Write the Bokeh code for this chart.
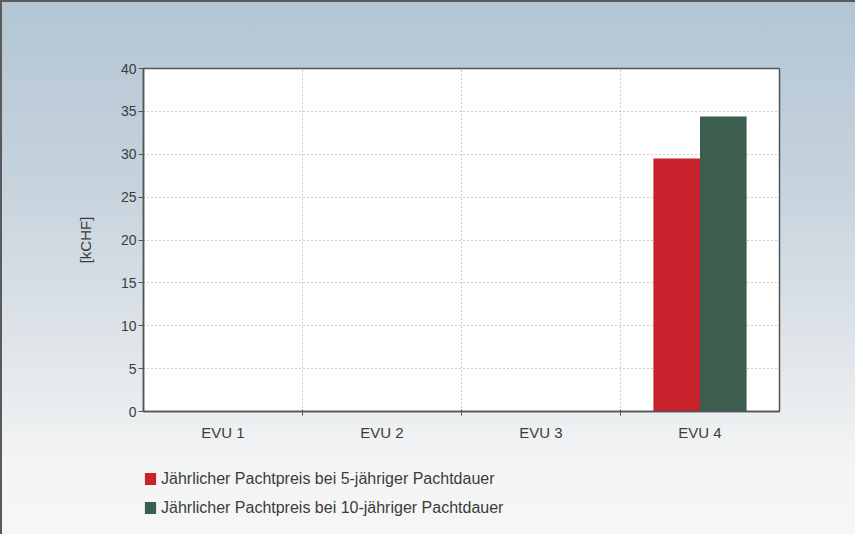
from bokeh.plotting import figure
from bokeh.layouts import column
from bokeh.models import (Range1d, FixedTicker, SingleIntervalTicker, Legend, LegendItem,
                          ColumnDataSource)
from bokeh.transform import dodge
from bokeh.embed import file_html
from bokeh.resources import INLINE

# ---- data ----
categories = ["EVU 1", "EVU 2", "EVU 3", "EVU 4"]
pacht_5 = [0, 0, 0, 29.5]    # Jährlicher Pachtpreis bei 5-jähriger Pachtdauer [kCHF]
pacht_10 = [0, 0, 0, 34.4]   # Jährlicher Pachtpreis bei 10-jähriger Pachtdauer [kCHF]
series_labels = ["Jährlicher Pachtpreis bei 5-jähriger Pachtdauer",
                 "Jährlicher Pachtpreis bei 10-jähriger Pachtdauer"]
series_colors = ["#c8222c", "#3b5e4f"]

centers = [i + 0.5 for i in range(len(categories))]
bounds = [i for i in range(1, len(categories))]
src = ColumnDataSource(dict(x=centers, a=pacht_5, b=pacht_10))

FONT = "Liberation Sans"
AXC = "#555555"
TXT = "#3c3c3c"
W, H_MAIN, H_LEG = 855, 450, 84

p = figure(width=W, height=H_MAIN, output_backend="svg", toolbar_location=None,
           x_range=Range1d(0, len(categories)), y_range=Range1d(0, 40),
           min_border_left=143, min_border_right=76, min_border_top=68,
           min_border_bottom=39)

p.border_fill_color = None
p.background_fill_color = "white"
p.outline_line_color = AXC
p.outline_line_width = 1.5

bw = 0.293
r1 = p.vbar(x=dodge("x", -bw / 2, range=p.x_range), top="a", width=bw, source=src,
            fill_color=series_colors[0], line_color=None)
r2 = p.vbar(x=dodge("x", bw / 2, range=p.x_range), top="b", width=bw, source=src,
            fill_color=series_colors[1], line_color=None)

# x axis: labels at centers, tick marks + grid at category boundaries
xa = p.xaxis[0]
xa.ticker = FixedTicker(ticks=centers, minor_ticks=bounds)
xa.major_label_overrides = {c: lab for c, lab in zip(centers, categories)}
xa.major_tick_line_color = None
xa.major_tick_out = 6
xa.major_tick_in = 0
xa.minor_tick_out = 4
xa.minor_tick_in = 2
xa.minor_tick_line_color = AXC
xa.axis_line_color = AXC
xa.axis_line_width = 1.5
xa.major_label_text_font = FONT
xa.major_label_text_font_size = "15px"
xa.major_label_text_color = TXT
xa.major_label_standoff = 6

p.xgrid.ticker = FixedTicker(ticks=bounds)
p.xgrid.grid_line_color = "#9a9a9a"
p.xgrid.grid_line_dash = "1 3"

ya = p.yaxis[0]
ya.ticker = SingleIntervalTicker(interval=5)
ya.minor_tick_line_color = None
ya.major_tick_out = 5
ya.major_tick_in = 0
ya.major_tick_line_color = AXC
ya.axis_line_color = AXC
ya.axis_line_width = 1.5
ya.major_label_text_font = FONT
ya.major_label_text_font_size = "14px"
ya.major_label_text_color = TXT
ya.major_label_standoff = 2
ya.axis_label = "[kCHF]"
ya.axis_label_text_font = FONT
ya.axis_label_text_font_size = "15px"
ya.axis_label_text_font_style = "normal"
ya.axis_label_text_color = TXT
ya.axis_label_standoff = 24

p.ygrid.grid_line_color = "#9a9a9a"
p.ygrid.grid_line_dash = "1 3"

# ---- legend strip below the chart (its frame is aligned with the chart's frame) ----
pl = figure(width=W, height=H_LEG, output_backend="svg", toolbar_location=None,
            x_axis_type=None, y_axis_type=None,
            x_range=Range1d(10, 11), y_range=Range1d(10, 11),
            min_border_left=0, min_border_right=0, min_border_top=0, min_border_bottom=0)
pl.border_fill_color = None
pl.background_fill_color = None
pl.outline_line_color = None
pl.grid.visible = False
# swatch renderers for the legend only (outside the visible range, zero height)
lr1 = pl.vbar(x=[0], top=[0], width=1, fill_color=series_colors[0], line_color=None)
lr2 = pl.vbar(x=[0], top=[0], width=1, fill_color=series_colors[1], line_color=None)

legend = Legend(items=[LegendItem(label=series_labels[0], renderers=[lr1]),
                       LegendItem(label=series_labels[1], renderers=[lr2])],
                location=(0, 12), orientation="vertical",
                border_line_color=None, background_fill_alpha=0,
                padding=0, margin=0, spacing=0,
                glyph_width=14, glyph_height=15, label_standoff=4, label_height=29,
                label_text_font=FONT, label_text_font_size="16px",
                label_text_color=TXT)
pl.add_layout(legend, "center")

lay = column(p, pl, spacing=0, width=W, height=H_MAIN + H_LEG)
lay.styles = {
    "background": "linear-gradient(to bottom, #b3c5d3 0%, #c6d3dd 35%, #e2e7eb 68%, #f3f4f4 86%, #f6f6f6 100%)",
    "box-shadow": "inset 2px 2px 0 #5a5a5a",
}

open("out.html", "w").write(file_html(lay, INLINE))
